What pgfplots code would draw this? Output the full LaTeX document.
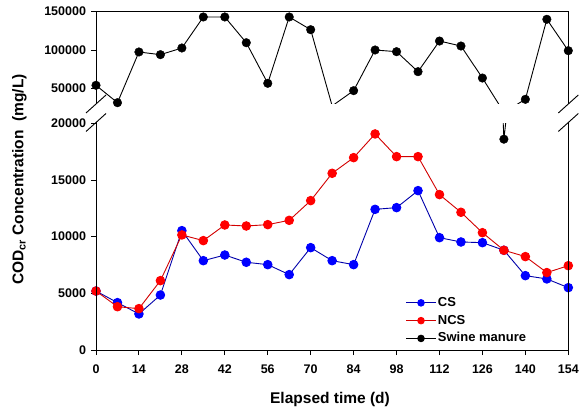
\documentclass[border=0pt]{standalone}
\usepackage{fontspec}
\setmainfont{Liberation Sans}
\usepackage{pgfplots}
\usepackage{pgfplotstable}
\pgfplotsset{compat=1.18}
\definecolor{csmark}{RGB}{0,0,255}
\definecolor{csline}{RGB}{0,0,170}
\definecolor{ncsmark}{RGB}{255,0,0}
\definecolor{ncsline}{RGB}{210,0,0}
\pgfplotstableread{
day cs ncs sw
0 5200 5200 53900
7 4180 3820 31200
14 3180 3650 97400
21 4850 6120 93900
28 10530 10150 102600
35 7880 9650 143100
42 8380 11030 143100
49 7740 10940 109500
56 7530 11060 56500
63 6650 11440 143100
70 9030 13180 126500
77 7880 15590 27000
84 7530 16970 46900
91 12410 19060 100000
98 12560 17060 97800
105 14060 17060 71700
112 9910 13710 111700
119 9530 12150 105200
126 9470 10350 63400
133 8800 8800 18600
140 6560 8240 35600
147 6270 6830 140100
154 5500 7440 99100
}\data
\pgfplotsset{
  brk/.style={
    scale only axis, width=472.3pt, xmin=0, xmax=154,
    clip mode=individual,
    axis line style={draw=none},
    tick align=outside, major tick length=5pt,
    tick style={black, line width=0.9pt},
    ytick pos=left, xtick pos=bottom,
    scaled y ticks=false,
    /pgf/number format/fixed,
    /pgf/number format/assume math mode=true,
    /pgf/number format/1000 sep={},
    tick label style={font=\fontsize{12.5}{14}\selectfont\bfseries},
    yticklabel style={xshift=-1.5pt},
    xticklabel style={yshift=-6pt},
  },
  csplot/.style={color=csline, line width=0.9pt, mark=*, mark size=4.3pt, mark options={draw=csmark, fill=csmark}},
  ncsplot/.style={color=ncsline, line width=0.9pt, mark=*, mark size=4.3pt, mark options={draw=ncsmark, fill=ncsmark}},
  swline/.style={color=black, line width=0.9pt},
  swmark/.style={only marks, mark=*, mark size=4.3pt, color=black},
}
\begin{document}
\begin{tikzpicture}
\useasboundingbox (0,0) rectangle (588pt,418pt);
% lower panel
\begin{axis}[brk, at={(96pt,68pt)}, anchor=south west, height=226.7pt,
  ymin=0, ymax=20000, ytick={0,5000,10000,15000,20000},
  xtick={0,14,...,154},
  legend style={at={(0.655,0.242)}, anchor=north west, draw=none, fill=none,
    inner sep=0pt, font=\fontsize{13}{15}\selectfont\bfseries,
    nodes={inner sep=1.5pt, text height=9.5pt, text depth=2.5pt}, row sep=2.8pt},
  legend cell align=left,
  legend image code/.code={\draw[mark repeat=2,mark phase=2,mark size=3.3pt] plot coordinates {(0pt,0pt) (15pt,0pt) (30pt,0pt)};},
]
\addplot[csplot] table[x=day,y=cs] {\data};
\addlegendentry{CS}
\addplot[ncsplot] table[x=day,y=ncs] {\data};
\addlegendentry{NCS}
\addplot[swline, forget plot] table[x=day,y=sw] {\data};
\addplot[swmark, forget plot, restrict y to domain=0:20000] table[x=day,y=sw] {\data};
\addlegendimage{swline, mark=*}
\addlegendentry{Swine manure}
\end{axis}
% upper panel
\begin{axis}[brk, at={(96pt,314.4pt)}, anchor=south west, height=91.9pt,
  ymin=30000, ymax=150000, ytick={50000,100000,150000},
  xtick=\empty,
]
\addplot[swline] table[x=day,y=sw] {\data};
\addplot[swmark, restrict y to domain=30000:150000] table[x=day,y=sw] {\data};
\end{axis}
% frame
\draw[line width=0.9pt] (96pt,295.5pt) -- (96pt,68pt) -- (568.3pt,68pt) -- (568.3pt,295.5pt);
\draw[line width=0.9pt] (96pt,314pt) -- (96pt,406.3pt) -- (568.3pt,406.3pt) -- (568.3pt,314pt);
\foreach \x in {96pt,568.3pt}{
  \draw[line width=0.9pt] ([shift={(-10pt,-9pt)}]\x,314pt) -- ([shift={(10pt,9pt)}]\x,314pt);
  \draw[line width=0.9pt] ([shift={(-10pt,-9pt)}]\x,295.5pt) -- ([shift={(10pt,9pt)}]\x,295.5pt);
}
\node[rotate=90, anchor=base, font=\fontsize{15.5}{18}\selectfont\bfseries] at (23.5pt,238.5pt) {COD\textsubscript{cr} Concentration\ \ (mg/L)};
\node[anchor=base, font=\fontsize{15.5}{18}\selectfont\bfseries] at (330pt,15pt) {Elapsed time (d)};
\end{tikzpicture}
\end{document}
